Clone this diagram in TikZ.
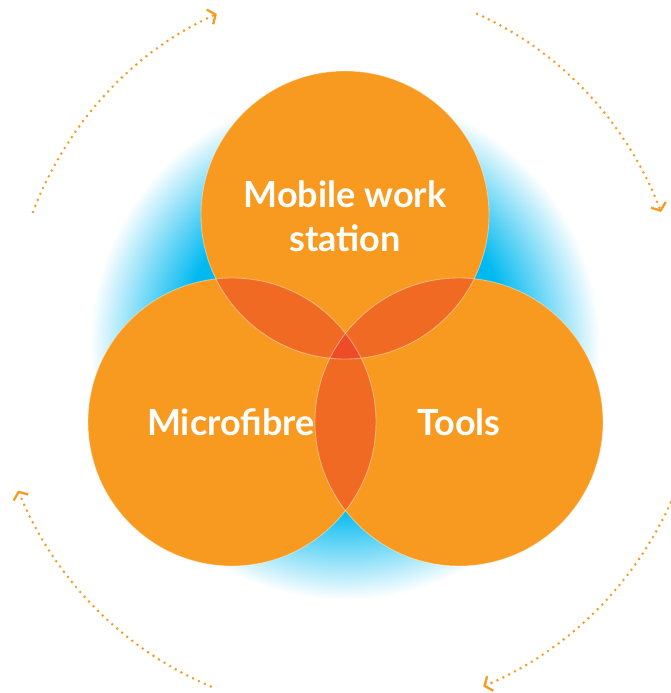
\documentclass[tikz,border=0pt]{standalone}
\usepackage{fontspec}
\setmainfont{Lato}
\usepackage{tikz}
\usetikzlibrary{arrows.meta, calc}
\definecolor{ring}{RGB}{247,154,31}
\definecolor{lens}{RGB}{240,106,36}
\definecolor{core}{RGB}{237,76,38}
\definecolor{glow}{RGB}{0,185,240}
\pgfdeclareradialshading{halo}{\pgfpointorigin}{color(0bp)=(glow); color(16bp)=(glow); color(25bp)=(white); color(50bp)=(white)}

\begin{document}
\begin{tikzpicture} [x=0.02cm, y=0.02cm,
    loopy/.style = {draw=ring, line width=1.6pt, line cap=round, dash pattern=on 0pt off 3.7pt,
        -{Straight Barb[length=3.5pt, width=9pt, line width=1.3pt]}},
    lbl/.style = {text=white, font=\bfseries\fontsize{20.5}{25}\selectfont, align=center, inner sep=0pt},
    ]
        \tikzset{ball/.style = {fill=ring}}
        \tikzset{rim/.style = {draw=white, draw opacity=0.4, line width=0.5pt}}
    \useasboundingbox (0,0) rectangle (670,693);
    \coordinate (hub) at (347,341);
    \coordinate (m) at (345,478);
    \coordinate (l) at (232,271);
    \coordinate (r) at (459,271);

    \shade[shading=halo] (345,348) circle [radius=255];

    \fill[ball] (m) circle [radius=144];
    \fill[ball] (l) circle [radius=144];
    \fill[ball] (r) circle [radius=144];
    \begin{scope}
        \clip (m) circle [radius=144];
        \fill[lens] (l) circle [radius=144];
        \fill[lens] (r) circle [radius=144];
    \end{scope}
    \begin{scope}
        \clip (l) circle [radius=144];
        \fill[lens] (r) circle [radius=144];
        \clip (m) circle [radius=144];
        \fill[core] (r) circle [radius=144];
    \end{scope}
    \draw[rim] (m) circle [radius=144];
    \draw[rim] (l) circle [radius=144];
    \draw[rim] (r) circle [radius=144];

    \node[lbl] (mobile) at (345,477) {Mobile work\\station};
    \node[lbl] (fibre) at (231,271) {Microfibre};
    \node[lbl] (tools) at (459,271) {Tools};

    \foreach \c/\rx/\ry in {135/340/366, 45/340/366, -45/356/362, -135/356/362}
        \draw[loopy] (hub) ++(xyz polar cs: angle=\c+22.5, x radius=\rx, y radius=\ry) arc [start angle=\c+22.5, end angle=\c-22.5, x radius=\rx, y radius=\ry];

\end{tikzpicture}
\end{document}
